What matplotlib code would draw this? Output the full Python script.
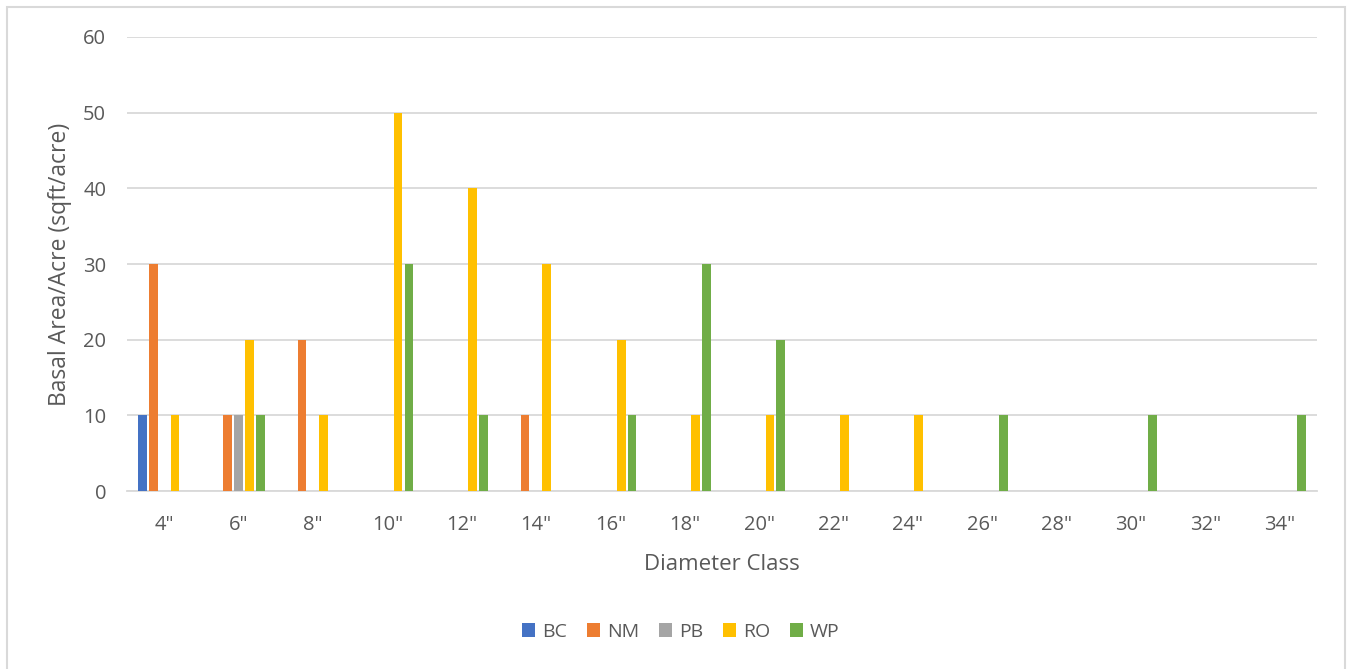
import numpy as np
import matplotlib.pyplot as plt
from matplotlib.patches import Rectangle

plt.rcParams['font.family'] = ['Open Sans', 'DejaVu Sans']

classes = ['4"', '6"', '8"', '10"', '12"', '14"', '16"', '18"',
           '20"', '22"', '24"', '26"', '28"', '30"', '32"', '34"']
species = ['BC', 'NM', 'PB', 'RO', 'WP']
bc = [10, 0, 0, 0, 0, 0, 0, 0, 0, 0, 0, 0, 0, 0, 0, 0]
nm = [30, 10, 20, 0, 0, 10, 0, 0, 0, 0, 0, 0, 0, 0, 0, 0]
pb = [0, 10, 0, 0, 0, 0, 0, 0, 0, 0, 0, 0, 0, 0, 0, 0]
ro = [10, 20, 10, 50, 40, 30, 20, 10, 10, 10, 10, 0, 0, 0, 0, 0]
wp = [0, 10, 0, 30, 10, 0, 10, 30, 20, 0, 0, 10, 0, 10, 0, 10]
colors = ['#4472C4', '#ED7D31', '#A5A5A5', '#FFC000', '#70AD47']

text_color = '#595959'
grid_color = '#D9D9D9'

fig = plt.figure(figsize=(13.48, 6.69), dpi=100)
ax = fig.add_axes([0.0942, 0.266, 0.8826, 0.6787])

# chart outline
fig.patches.append(Rectangle((7 / 1348, -0.05), 1338 / 1348, 1.05 - 7 / 669,
                             transform=fig.transFigure, fill=False,
                             edgecolor='#D9D9D9', linewidth=1.5))

x = np.arange(len(classes))
pitch = 0.146
series = [bc, nm, pb, ro, wp]
for i, (name, vals, c) in enumerate(zip(species, series, colors)):
    ax.bar(x + (i - 2) * pitch, vals, width=0.118, color=c, label=name, zorder=3)

ax.set_xlim(-0.5, len(classes) - 0.5)
ax.set_ylim(0, 60)
ax.set_yticks(range(0, 61, 10))
ax.set_xticks(x)
ax.set_xticklabels(classes)
ax.yaxis.grid(True, color=grid_color, linewidth=1.3, zorder=0)
ax.tick_params(length=0, labelsize=14.5, colors=text_color)
ax.tick_params(axis='y', pad=15)
ax.tick_params(axis='x', pad=17)
for s in ['top', 'right', 'left']:
    ax.spines[s].set_visible(False)
ax.spines['bottom'].set_color(grid_color)
ax.spines['bottom'].set_linewidth(1.3)

ax.set_xlabel('Diameter Class', fontsize=16, color=text_color, labelpad=14)
ax.set_ylabel('Basal Area/Acre (sqft/acre)', fontsize=16.5, color=text_color, labelpad=8)

fig.legend(loc='center', bbox_to_anchor=(0.505, 1 - 632 / 669), ncol=5,
           frameon=False, fontsize=14, labelcolor=text_color,
           handlelength=0.7, handleheight=0.7, handletextpad=0.35,
           columnspacing=1.0)

fig.savefig('out.png', dpi=100)
